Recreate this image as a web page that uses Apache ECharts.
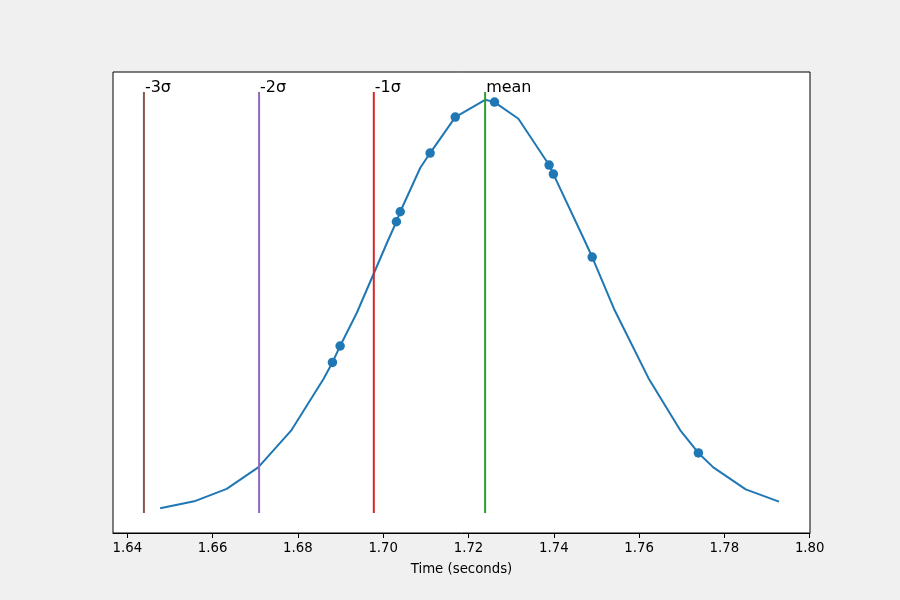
<!DOCTYPE html>
<html><head><meta charset="utf-8">
<script src="https://cdn.jsdelivr.net/npm/echarts@6/dist/echarts.min.js"></script>
<style>html,body{margin:0;padding:0;background:#f0f0f0;}#c{width:900px;height:600px;}</style>
</head><body><div id="c"></div>
<script>
// Fitted normal-curve polyline (x in seconds, y = density)
const curveX = [1.6477,1.6557,1.6633,1.6707,1.6784,1.6860,1.6881,1.6899,1.6938,1.7011,1.7031,1.7040,1.7087,1.7110,1.7169,1.7239,1.7261,1.7317,1.7389,1.7399,1.7470,1.7490,1.7541,1.7622,1.7698,1.7739,1.7774,1.7850,1.7928];
const curveY = [0.167,0.422,0.873,1.658,2.993,4.873,5.476,6.073,7.273,9.902,10.593,10.956,12.556,13.091,14.400,15.029,14.945,14.338,12.655,12.327,9.982,9.309,7.429,4.902,2.975,2.182,1.658,0.858,0.411];
// Observed samples
const pointX = [1.6881,1.6899,1.7031,1.7040,1.7110,1.7169,1.7261,1.7389,1.7399,1.7490,1.7739];
const pointY = [5.476,6.073,10.593,10.956,13.091,14.400,14.945,12.655,12.327,9.309,2.182];
// Reference lines
const refNames = ['-3σ','-2σ','-1σ','mean'];
const refX = [1.6439,1.6709,1.6978,1.7239];
const refBottom = 0;
const refTop = 15.31;
// X tick labels
const xTicks = [1.64,1.66,1.68,1.70,1.72,1.74,1.76,1.78,1.80];

const refColors = ['#8c564b','#9467bd','#d62728','#2ca02c'];
const FONT = 'DejaVu Sans';

const chart = echarts.init(document.getElementById('c'), null, {renderer:'canvas'});
const series = [];
series.push({
  type:'line', data: curveX.map((x,i)=>[x,curveY[i]]), showSymbol:false,
  lineStyle:{color:'#1f77b4', width:2}, itemStyle:{color:'#1f77b4'}, z:2, animation:false
});
series.push({
  type:'scatter', data: pointX.map((x,i)=>[x,pointY[i]]), symbol:'circle', symbolSize:9.5,
  itemStyle:{color:'#1f77b4', opacity:1}, z:3, animation:false
});
refX.forEach((x,i)=>{
  series.push({
    type:'line', data:[[x,refBottom],[x,refTop]], showSymbol:false,
    lineStyle:{color:refColors[i], width:2}, itemStyle:{color:refColors[i]}, z:4, animation:false
  });
});
series.push({
  type:'scatter', symbolSize:0, z:5, animation:false,
  data: refX.map((x,i)=>({name:refNames[i], value:[x,refTop]})),
  label:{show:true, formatter:p=>p.name, position:[0,0], align:'left', verticalAlign:'bottom',
    offset:[1,4], fontSize:16, color:'#000', fontFamily:FONT, textBorderWidth:0, opacity:1}
});

chart.setOption({
  backgroundColor:'#f0f0f0',
  animation:false,
  grid:{left:113, right:90, top:72, bottom:67, show:true, backgroundColor:'#ffffff', borderColor:'#000', borderWidth:1, containLabel:false},
  xAxis:{
    type:'value', min:1.63665, max:1.80007,
    name:'Time (seconds)', nameLocation:'middle', nameGap:30,
    nameTextStyle:{fontSize:13.3, color:'#000', fontFamily:FONT},
    axisLine:{show:true, onZero:false, lineStyle:{color:'#000', width:1}},
    axisTick:{show:true, customValues:xTicks, length:5, lineStyle:{color:'#000', width:1}},
    axisLabel:{show:true, customValues:xTicks, margin:9, fontSize:13.3, color:'#000', fontFamily:FONT,
      formatter:v=>Number(v).toFixed(2)},
    splitLine:{show:false}
  },
  yAxis:{type:'value', min:-0.73, max:16.04, show:false, splitLine:{show:false}},
  series
});
</script></body></html>
